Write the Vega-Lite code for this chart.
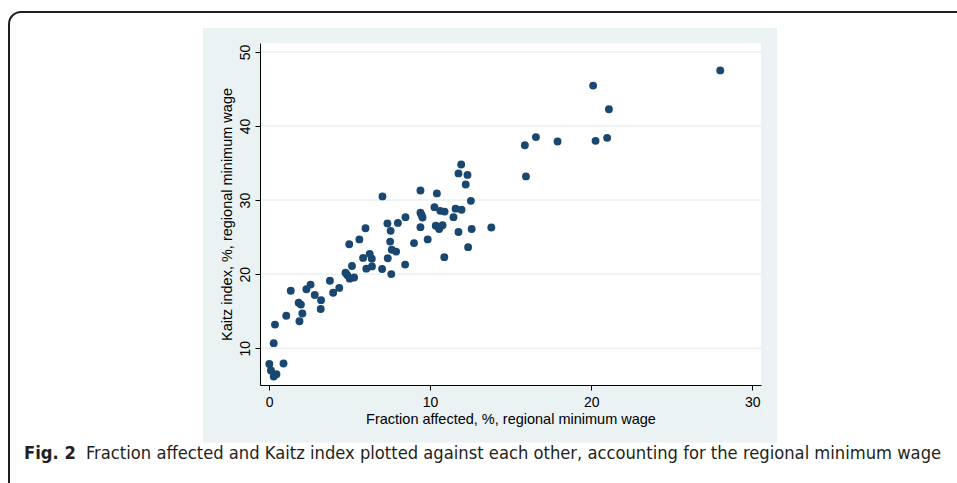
{
  "$schema": "https://vega.github.io/schema/vega-lite/v6.json",
  "width": 501,
  "height": 342,
  "autosize": {"type": "none"},
  "padding": {"left": 260, "top": 43, "right": 196, "bottom": 98},
  "background": "white",
  "config": {
    "view": {"stroke": null, "fill": null},
    "axis": {
      "domainColor": "#000000",
      "domainWidth": 1,
      "tickColor": "#000000",
      "tickSize": 5,
      "tickWidth": 1,
      "labelFont": "Liberation Sans",
      "labelFontSize": 14,
      "labelColor": "#000000",
      "titleFont": "Liberation Sans",
      "titleFontSize": 14.5,
      "titleFontWeight": "normal",
      "titleColor": "#000000",
      "grid": false
    }
  },
  "title": {
    "text": "Fig. 2",
    "subtitle": "Fraction affected and Kaitz index plotted against each other, accounting for the regional minimum wage",
    "orient": "bottom",
    "anchor": "start",
    "frame": "bounds",
    "baseline": "top",
    "offset": -76,
    "dx": 78,
    "font": "DejaVu Sans Condensed, Liberation Sans",
    "fontSize": 18.2,
    "fontWeight": "bold",
    "color": "#231f20",
    "subtitleFont": "DejaVu Sans Condensed, Liberation Sans",
    "subtitleFontSize": 18.2,
    "subtitleFontWeight": "normal",
    "subtitleColor": "#231f20",
    "subtitlePadding": -18.2,
    "encoding": {"dx": {"value": 16}}
  },
  "datasets": {
    "pts": [
      {"fraction": 0.02, "kaitz": 7.9}, {"fraction": 0.12, "kaitz": 7.0}, {"fraction": 0.29, "kaitz": 6.2},
      {"fraction": 0.46, "kaitz": 6.5}, {"fraction": 0.9, "kaitz": 7.95}, {"fraction": 0.29, "kaitz": 10.7},
      {"fraction": 0.37, "kaitz": 13.2}, {"fraction": 1.07, "kaitz": 14.4}, {"fraction": 1.35, "kaitz": 17.76},
      {"fraction": 1.84, "kaitz": 16.15}, {"fraction": 1.98, "kaitz": 15.9}, {"fraction": 2.07, "kaitz": 14.7},
      {"fraction": 1.89, "kaitz": 13.65}, {"fraction": 2.32, "kaitz": 17.97}, {"fraction": 2.58, "kaitz": 18.6},
      {"fraction": 2.84, "kaitz": 17.2}, {"fraction": 3.23, "kaitz": 16.5}, {"fraction": 3.21, "kaitz": 15.3},
      {"fraction": 3.78, "kaitz": 19.12}, {"fraction": 3.98, "kaitz": 17.5}, {"fraction": 4.36, "kaitz": 18.15},
      {"fraction": 4.75, "kaitz": 20.2}, {"fraction": 4.85, "kaitz": 19.9}, {"fraction": 4.98, "kaitz": 24.05},
      {"fraction": 5.15, "kaitz": 21.1}, {"fraction": 5.01, "kaitz": 19.4}, {"fraction": 5.28, "kaitz": 19.55},
      {"fraction": 5.61, "kaitz": 24.7}, {"fraction": 5.84, "kaitz": 22.2}, {"fraction": 5.99, "kaitz": 26.2},
      {"fraction": 6.04, "kaitz": 20.75}, {"fraction": 6.25, "kaitz": 22.75}, {"fraction": 6.38, "kaitz": 22.1},
      {"fraction": 6.39, "kaitz": 21.05}, {"fraction": 7.02, "kaitz": 20.7}, {"fraction": 7.04, "kaitz": 30.5},
      {"fraction": 7.37, "kaitz": 22.15}, {"fraction": 7.35, "kaitz": 26.85}, {"fraction": 7.55, "kaitz": 25.85},
      {"fraction": 7.52, "kaitz": 24.4}, {"fraction": 7.62, "kaitz": 23.3}, {"fraction": 7.89, "kaitz": 23.05},
      {"fraction": 7.59, "kaitz": 20.02}, {"fraction": 8.0, "kaitz": 26.92}, {"fraction": 8.45, "kaitz": 21.3},
      {"fraction": 8.47, "kaitz": 27.7}, {"fraction": 9.0, "kaitz": 24.2}, {"fraction": 9.4, "kaitz": 31.3},
      {"fraction": 9.4, "kaitz": 28.3}, {"fraction": 9.47, "kaitz": 28.0}, {"fraction": 9.53, "kaitz": 27.65},
      {"fraction": 9.4, "kaitz": 26.35}, {"fraction": 9.85, "kaitz": 24.7}, {"fraction": 10.42, "kaitz": 30.9},
      {"fraction": 10.27, "kaitz": 29.05}, {"fraction": 10.63, "kaitz": 28.55}, {"fraction": 10.9, "kaitz": 28.45},
      {"fraction": 10.35, "kaitz": 26.55}, {"fraction": 10.56, "kaitz": 26.1}, {"fraction": 10.77, "kaitz": 26.6},
      {"fraction": 10.6, "kaitz": 26.35}, {"fraction": 10.88, "kaitz": 22.3}, {"fraction": 11.45, "kaitz": 27.7},
      {"fraction": 11.58, "kaitz": 28.85}, {"fraction": 11.95, "kaitz": 28.7}, {"fraction": 11.76, "kaitz": 25.7},
      {"fraction": 11.93, "kaitz": 34.8}, {"fraction": 11.76, "kaitz": 33.6}, {"fraction": 12.32, "kaitz": 33.4},
      {"fraction": 12.21, "kaitz": 32.1}, {"fraction": 12.53, "kaitz": 29.9}, {"fraction": 12.36, "kaitz": 23.65},
      {"fraction": 12.58, "kaitz": 26.1}, {"fraction": 13.8, "kaitz": 26.3}, {"fraction": 15.95, "kaitz": 33.2},
      {"fraction": 15.88, "kaitz": 37.4}, {"fraction": 16.57, "kaitz": 38.5}, {"fraction": 17.91, "kaitz": 37.9},
      {"fraction": 20.12, "kaitz": 45.45}, {"fraction": 20.27, "kaitz": 38.0}, {"fraction": 20.99, "kaitz": 38.4},
      {"fraction": 21.1, "kaitz": 42.26}, {"fraction": 28.01, "kaitz": 47.5}
    ],
    "grid": [{"g": 10}, {"g": 20}, {"g": 30}, {"g": 40}, {"g": 50}]
  },
  "layer": [
    {
      "data": {"values": [{}]},
      "mark": {"type": "rect", "fill": "none", "stroke": "#1e1e1e", "strokeWidth": 2, "cornerRadius": 12},
      "encoding": {
        "x": {"datum": -16.14, "type": "quantitative"},
        "x2": {"datum": 45.4},
        "y": {"datum": 55.39, "type": "quantitative"},
        "y2": {"datum": -13.2}
      }
    },
    {
      "data": {"values": [{}]},
      "mark": {"type": "rect", "fill": "#eaf2f3", "stroke": null},
      "encoding": {
        "x": {"datum": -4.1, "type": "quantitative"},
        "x2": {"datum": 31.53},
        "y": {"datum": 53.23, "type": "quantitative"},
        "y2": {"datum": -2.7}
      }
    },
    {
      "data": {"values": [{}]},
      "mark": {"type": "rect", "fill": "#ffffff", "stroke": null},
      "encoding": {
        "x": {"datum": -0.56, "type": "quantitative"},
        "x2": {"datum": 30.54},
        "y": {"datum": 5.05, "type": "quantitative"},
        "y2": {"datum": 51.2}
      }
    },
    {
      "data": {"name": "grid"},
      "mark": {"type": "rule", "stroke": "#eaf2f3", "strokeWidth": 1.6},
      "encoding": {
        "y": {"field": "g", "type": "quantitative"},
        "x": {"datum": -0.56, "type": "quantitative"},
        "x2": {"datum": 30.54}
      }
    },
    {
      "data": {"name": "pts"},
      "mark": {"type": "circle", "color": "#1a476f", "opacity": 1, "size": 62},
      "encoding": {
        "x": {
          "field": "fraction",
          "type": "quantitative",
          "scale": {"domain": [-0.56, 30.54], "nice": false, "zero": false},
          "axis": {"values": [0, 10, 20, 30], "labelPadding": 5, "titlePadding": 3, "zindex": 1, "grid": false},
          "title": "Fraction affected, %, regional minimum wage"
        },
        "y": {
          "field": "kaitz",
          "type": "quantitative",
          "scale": {"domain": [5.05, 51.2], "nice": false, "zero": false},
          "axis": {"values": [10, 20, 30, 40, 50], "labelAngle": 270, "labelAlign": "center", "labelBaseline": "alphabetic", "labelPadding": 6, "titlePadding": 4, "zindex": 1, "grid": false},
          "title": "Kaitz index, %, regional minimum wage"
        }
      }
    }
  ]
}
